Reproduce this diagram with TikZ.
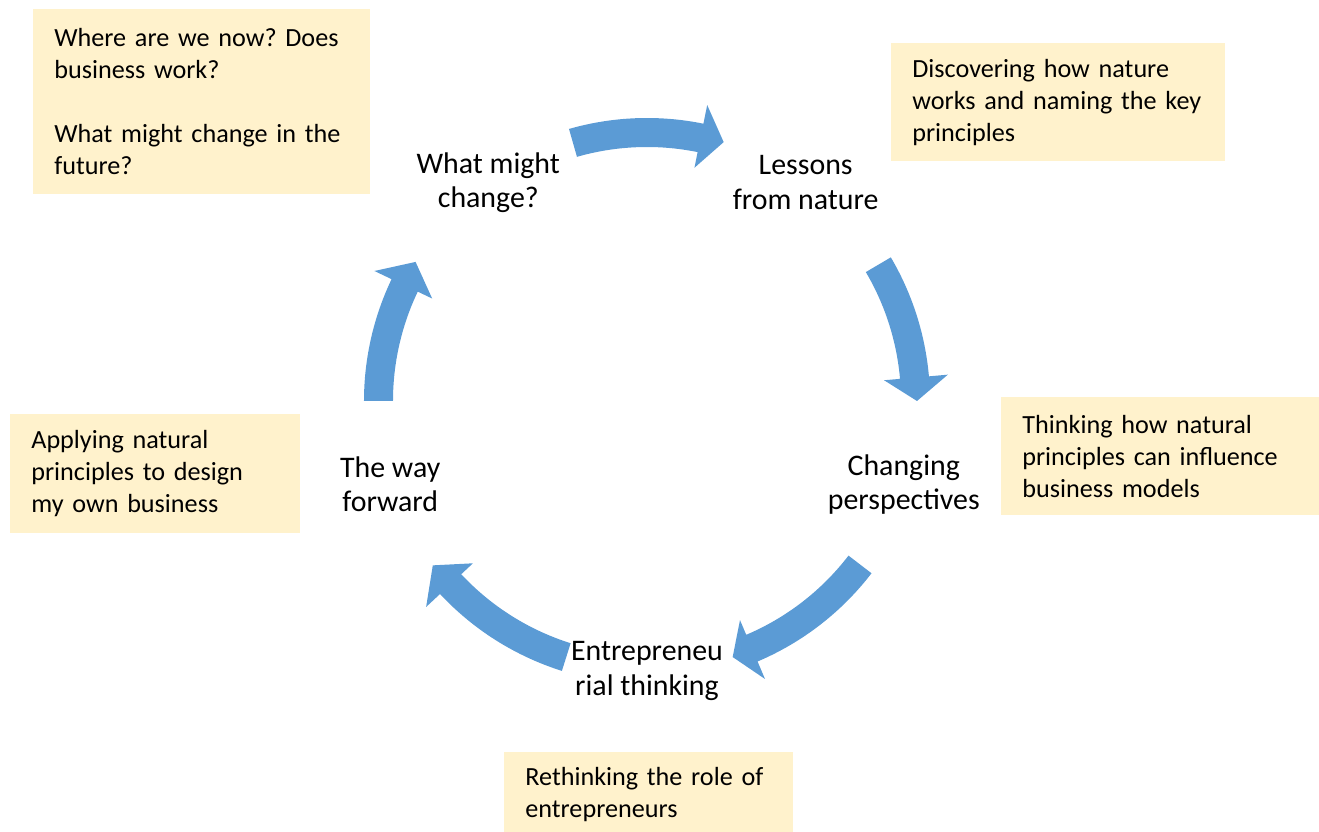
\documentclass[tikz,border=0pt]{standalone}
\usepackage{fontspec}
\setmainfont{Carlito}
\frenchspacing
\definecolor{cycblue}{HTML}{5B9BD5}
\definecolor{notefill}{HTML}{FFF2CC}

\begin{document}
\begin{tikzpicture}[
  stage/.style={align=center, inner sep=0pt, font=\fontsize{17}{19.4}\selectfont},
  note/.style={anchor=north west, fill=notefill, align=left, inner xsep=0.42cm,
    inner ysep=0pt, font=\fontsize{14.9}{18.2}\selectfont},
  cyc/.style={fill=cycblue},
]
\clip (-12.94,-8.62) rectangle (13.44,8.02);

% Stage labels
\node[stage] (chg) at (126:5.4) {What might\\change?};
\node[stage] (les) at (54:5.4) {Lessons\\from nature};
\node[stage] (per) at (-18:5.4) {Changing\\perspectives};
\node[stage] (ent) at (-90:5.4) {Entrepreneu\\rial thinking};
\node[stage] (fwd) at (198:5.4) {The way\\forward};

% Cycle arrows
\fill[cyc] (106:5.66) arc[start angle=106, end angle=78.5, radius=5.66] -- (78.5:6.04) -- (73.5:5.40)
  -- (78.5:4.76) -- (78.5:5.08) arc[start angle=78.5, end angle=106, radius=5.08] -- cycle;
\fill[cyc] (30.5:5.66) arc[start angle=30.5, end angle=5, radius=5.66] -- (5:6.04) -- (0:5.40)
  -- (5:4.76) -- (5:5.08) arc[start angle=5, end angle=30.5, radius=5.08] -- cycle;
\fill[cyc] (-37.5:5.66) arc[start angle=-37.5, end angle=-67, radius=5.66] -- (-67:6.04) -- (-71.5:5.40)
  -- (-67:4.76) -- (-67:5.08) arc[start angle=-67, end angle=-37.5, radius=5.08] -- cycle;
\fill[cyc] (-107.5:5.66) arc[start angle=-107.5, end angle=-137, radius=5.66] -- (-137:6.04) -- (-142.5:5.40)
  -- (-137:4.76) -- (-137:5.08) arc[start angle=-137, end angle=-107.5, radius=5.08] -- cycle;
\fill[cyc] (180:5.66) arc[start angle=180, end angle=154.5, radius=5.66] -- (154.5:6.04) -- (149:5.40)
  -- (154.5:4.76) -- (154.5:5.08) arc[start angle=154.5, end angle=180, radius=5.08] -- cycle;

% Notes
\node[note, text width=5.90cm, minimum height=3.70cm] (n-chg) at (-12.28,7.84)
  {Where are we now? Does\\business work?\\[18.2pt]What might change in the\\future?};
\node[note, text width=5.84cm, minimum height=2.36cm] (n-les) at (4.88,7.16)
  {Discovering how nature\\works and naming the key\\principles};
\node[note, text width=5.52cm, minimum height=2.36cm] (n-per) at (7.08,0.08)
  {Thinking how natural\\principles can influence\\business models};
\node[note, text width=4.96cm, minimum height=2.38cm] (n-fwd) at (-12.74,-0.26)
  {Applying natural\\principles to design\\my own business};
\node[note, text width=4.94cm, minimum height=1.70cm] (n-ent) at (-2.86,-7.02)
  {Rethinking the role of\\entrepreneurs};
\end{tikzpicture}
\end{document}
